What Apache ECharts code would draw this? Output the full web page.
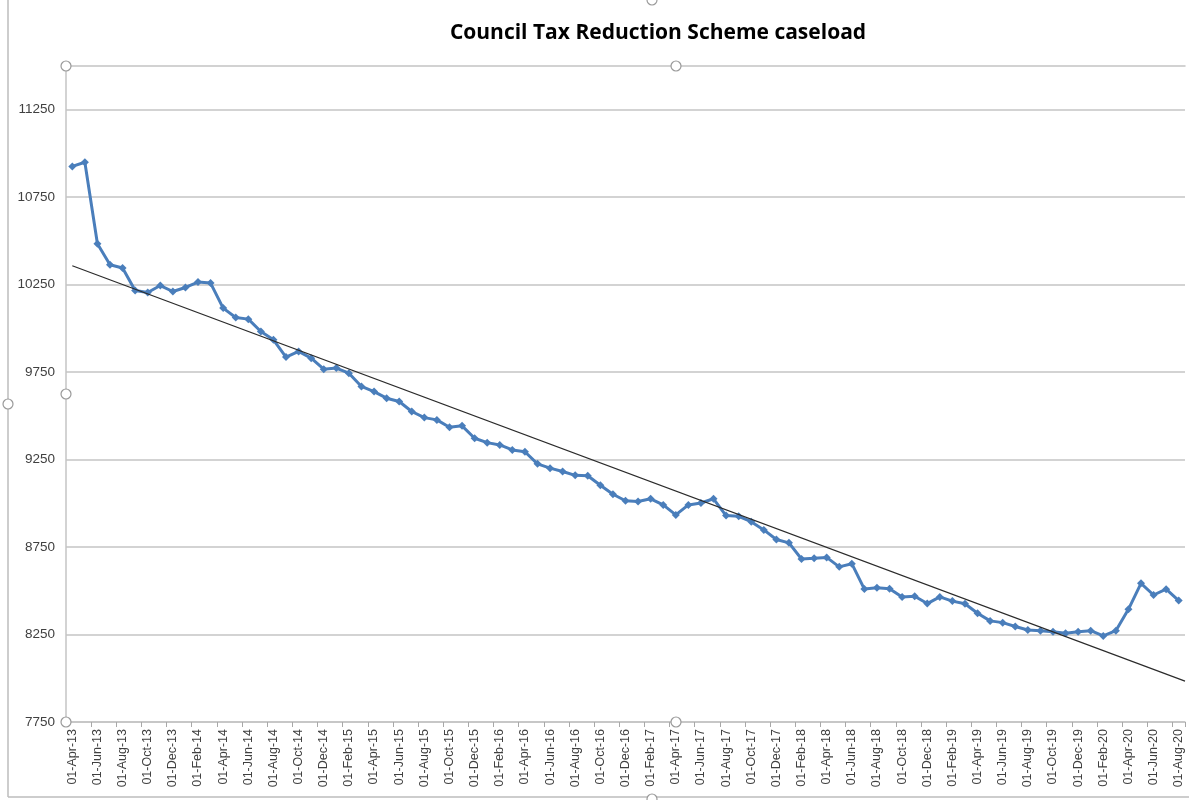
<!DOCTYPE html>
<html>
<head>
<meta charset="utf-8">
<script src="https://cdn.jsdelivr.net/npm/echarts@6/dist/echarts.min.js"></script>
<style>
  html, body { margin: 0; padding: 0; background: #fff; }
  #chart { width: 1189px; height: 800px; }
</style>
</head>
<body>
<div id="chart"></div>
<script>
const titleText = 'Council Tax Reduction Scheme caseload';

const categories = [
  '01-Apr-13','01-May-13','01-Jun-13','01-Jul-13','01-Aug-13','01-Sep-13','01-Oct-13','01-Nov-13','01-Dec-13',
  '01-Jan-14','01-Feb-14','01-Mar-14','01-Apr-14','01-May-14','01-Jun-14','01-Jul-14','01-Aug-14','01-Sep-14','01-Oct-14','01-Nov-14','01-Dec-14',
  '01-Jan-15','01-Feb-15','01-Mar-15','01-Apr-15','01-May-15','01-Jun-15','01-Jul-15','01-Aug-15','01-Sep-15','01-Oct-15','01-Nov-15','01-Dec-15',
  '01-Jan-16','01-Feb-16','01-Mar-16','01-Apr-16','01-May-16','01-Jun-16','01-Jul-16','01-Aug-16','01-Sep-16','01-Oct-16','01-Nov-16','01-Dec-16',
  '01-Jan-17','01-Feb-17','01-Mar-17','01-Apr-17','01-May-17','01-Jun-17','01-Jul-17','01-Aug-17','01-Sep-17','01-Oct-17','01-Nov-17','01-Dec-17',
  '01-Jan-18','01-Feb-18','01-Mar-18','01-Apr-18','01-May-18','01-Jun-18','01-Jul-18','01-Aug-18','01-Sep-18','01-Oct-18','01-Nov-18','01-Dec-18',
  '01-Jan-19','01-Feb-19','01-Mar-19','01-Apr-19','01-May-19','01-Jun-19','01-Jul-19','01-Aug-19','01-Sep-19','01-Oct-19','01-Nov-19','01-Dec-19',
  '01-Jan-20','01-Feb-20','01-Mar-20','01-Apr-20','01-May-20','01-Jun-20','01-Jul-20','01-Aug-20'
];

const caseload = [
  10926, 10950, 10484, 10364, 10345, 10217, 10205, 10245, 10211,
  10234, 10265, 10259, 10116, 10062, 10053, 9982, 9935, 9836, 9868, 9830, 9767,
  9773, 9744, 9668, 9639, 9601, 9582, 9525, 9490, 9477, 9435, 9443, 9372,
  9347, 9334, 9305, 9295, 9226, 9201, 9182, 9160, 9158, 9103, 9052, 9015,
  9010, 9026, 8991, 8934, 8991, 9002, 9026, 8930, 8926, 8895, 8848, 8793,
  8774, 8682, 8686, 8691, 8637, 8655, 8510, 8517, 8512, 8464, 8469, 8427,
  8465, 8441, 8426, 8372, 8328, 8318, 8296, 8276, 8272, 8266, 8257, 8266,
  8272, 8242, 8272, 8394, 8543, 8476, 8509, 8444
];

// Linear trendline endpoints (category position, value)
const trendX = [0, 88.5];
const trendY = [10358, 7984];

// Y axis: labelled ticks
const yMin = 7750;
const yMax = 11500;
const yLabelStep = 500;

const chart = echarts.init(document.getElementById('chart'), null, { renderer: 'canvas' });

const gridColor = '#c4c4c4';
const handle = (x, y) => ({
  type: 'circle', shape: { cx: x, cy: y, r: 5 }, z: 100,
  style: { fill: '#fff', stroke: '#9a9a9a', lineWidth: 1.2 }
});

chart.setOption({
  backgroundColor: '#fff',
  animation: false,
  title: {
    text: titleText,
    left: 653, top: 18, textAlign: 'center',
    textStyle: { fontFamily: 'Open Sans', fontWeight: 'bold', fontSize: 21, color: '#000' }
  },
  grid: { left: 66, right: 4, top: 66, bottom: 78, containLabel: false },
  xAxis: [
    {
      type: 'category',
      data: categories,
      boundaryGap: true,
      axisLine: { show: true, onZero: false, lineStyle: { color: gridColor, width: 1.5 } },
      axisTick: { show: true, interval: 1, length: 5, lineStyle: { color: '#a8a8a8' } },
      axisLabel: {
        interval: 1, rotate: 90, margin: 7,
        fontFamily: 'Liberation Sans', fontSize: 12.5, color: '#404040'
      },
      splitLine: { show: false }
    },
    {
      type: 'value',
      position: 'top',
      min: -0.5, max: 88.5,
      axisLine: { show: true, onZero: false, lineStyle: { color: gridColor, width: 1.5 } },
      axisTick: { show: false },
      axisLabel: { show: false },
      splitLine: { show: false }
    }
  ],
  yAxis: {
    type: 'value',
    min: yMin, max: yMax, interval: 250,
    axisLine: { show: true, onZero: false, lineStyle: { color: gridColor, width: 1.5 } },
    axisTick: { show: false },
    axisLabel: {
      margin: 11,
      fontFamily: 'Liberation Sans', fontSize: 13.5, color: '#404040',
      formatter: v => ((v - yMin) % yLabelStep === 0 && v < yMax) ? String(v) : ''
    },
    splitLine: { show: true, lineStyle: { color: [gridColor, 'rgba(0,0,0,0)'], width: 1.5 } }
  },
  series: [
    {
      name: 'Caseload',
      type: 'line',
      data: caseload,
      xAxisIndex: 0,
      symbol: 'diamond',
      symbolSize: 8,
      showSymbol: true,
      lineStyle: { color: '#4a7ebb', width: 3 },
      itemStyle: { color: '#4a7ebb' },
      z: 3
    },
    {
      name: 'Trend',
      type: 'line',
      xAxisIndex: 1,
      data: trendX.map((x, i) => [x, trendY[i]]),
      symbol: 'none',
      lineStyle: { color: '#2b2b2b', width: 1.2 },
      z: 4
    }
  ],
  graphic: [
    { type: 'line', shape: { x1: 8, y1: 0, x2: 8, y2: 797 }, style: { stroke: '#bdbdbd', lineWidth: 1.5 } },
    { type: 'line', shape: { x1: 8, y1: 797, x2: 1189, y2: 797 }, style: { stroke: '#bdbdbd', lineWidth: 1.5 } },
    handle(66, 66), handle(676, 66), handle(66, 394), handle(66, 722), handle(676, 722),
    handle(8, 404), handle(652, 0), handle(652, 799)
  ]
});
</script>
</body>
</html>
